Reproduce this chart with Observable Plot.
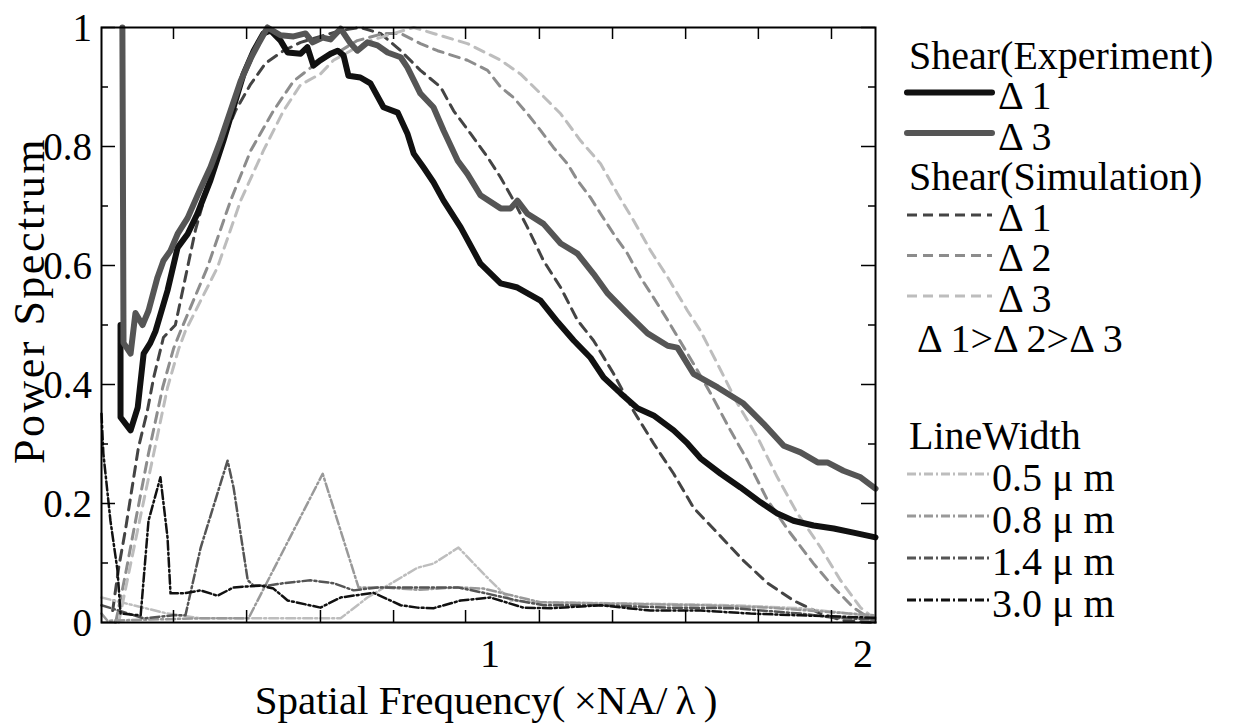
<!DOCTYPE html>
<html><head><meta charset="utf-8">
<script src="https://cdn.jsdelivr.net/npm/d3@7"></script>
<script src="https://cdn.jsdelivr.net/npm/@observablehq/plot@0.6"></script>
<style>
body{margin:0;background:#fff;}
#wrap{position:relative;width:1235px;height:728px;}
#wrap svg.leg{position:absolute;left:0;top:0;pointer-events:none;}
</style></head><body><div id="wrap"></div>
<script>
// ---- data (x: spatial frequency ×NA/λ, y: normalised power spectrum) ----
const expD1 = [[0.008,0.50],[0.008,0.345],[0.035,0.323],[0.054,0.361],[0.070,0.452],[0.088,0.47],[0.102,0.49],[0.134,0.558],[0.161,0.63],[0.188,0.653],[0.214,0.687],[0.249,0.743],[0.284,0.81],[0.311,0.866],[0.338,0.922],[0.365,0.961],[0.391,0.99],[0.410,0.995],[0.437,0.978],[0.456,0.958],[0.491,0.956],[0.509,0.967],[0.525,0.936],[0.544,0.945],[0.571,0.956],[0.590,0.961],[0.606,0.953],[0.619,0.919],[0.651,0.916],[0.678,0.906],[0.713,0.866],[0.751,0.857],[0.777,0.822],[0.794,0.788],[0.820,0.765],[0.847,0.74],[0.874,0.709],[0.920,0.664],[0.973,0.603],[1.027,0.57],[1.072,0.563],[1.134,0.541],[1.180,0.505],[1.223,0.474],[1.268,0.445],[1.303,0.412],[1.349,0.385],[1.394,0.36],[1.437,0.348],[1.491,0.323],[1.528,0.301],[1.563,0.276],[1.617,0.25],[1.670,0.227],[1.724,0.202],[1.769,0.183],[1.812,0.171],[1.866,0.163],[1.920,0.158],[1.973,0.151],[2.032,0.143]];
const expD3 = [[0.013,1.0],[0.016,0.47],[0.035,0.452],[0.048,0.52],[0.067,0.50],[0.083,0.524],[0.107,0.58],[0.123,0.608],[0.142,0.625],[0.161,0.653],[0.188,0.68],[0.223,0.73],[0.249,0.765],[0.276,0.81],[0.303,0.86],[0.330,0.91],[0.357,0.948],[0.378,0.973],[0.402,1.0],[0.437,0.987],[0.472,0.985],[0.504,0.99],[0.523,0.975],[0.550,0.983],[0.571,0.98],[0.598,0.998],[0.625,0.973],[0.643,0.961],[0.670,0.975],[0.697,0.97],[0.724,0.958],[0.759,0.95],[0.777,0.933],[0.812,0.889],[0.847,0.866],[0.874,0.827],[0.912,0.776],[0.938,0.754],[0.973,0.718],[1.027,0.696],[1.054,0.696],[1.072,0.709],[1.099,0.687],[1.142,0.67],[1.188,0.637],[1.233,0.62],[1.276,0.586],[1.314,0.553],[1.367,0.519],[1.421,0.486],[1.475,0.465],[1.501,0.462],[1.544,0.418],[1.609,0.395],[1.678,0.368],[1.732,0.334],[1.786,0.297],[1.831,0.286],[1.877,0.269],[1.903,0.269],[1.946,0.255],[1.992,0.244],[2.032,0.225]];
const simD1 = [[-0.013,0.02],[0.003,0.092],[0.021,0.155],[0.056,0.294],[0.080,0.356],[0.097,0.412],[0.123,0.479],[0.155,0.50],[0.182,0.58],[0.209,0.66],[0.236,0.72],[0.276,0.80],[0.316,0.86],[0.357,0.905],[0.397,0.94],[0.445,0.961],[0.491,0.975],[0.544,0.985],[0.598,0.995],[0.651,1.0],[0.705,0.99],[0.759,0.961],[0.812,0.928],[0.866,0.90],[0.901,0.86],[0.946,0.822],[0.992,0.782],[1.027,0.748],[1.062,0.709],[1.099,0.664],[1.142,0.608],[1.188,0.563],[1.233,0.508],[1.276,0.474],[1.330,0.418],[1.383,0.356],[1.437,0.301],[1.491,0.25],[1.544,0.193],[1.609,0.15],[1.678,0.104],[1.743,0.066],[1.812,0.037],[1.885,0.015],[1.946,0.003],[2.032,0.0]];
const simD2 = [[-0.005,0.0],[0.021,0.08],[0.048,0.17],[0.083,0.284],[0.121,0.395],[0.150,0.46],[0.169,0.49],[0.241,0.597],[0.303,0.709],[0.357,0.793],[0.418,0.86],[0.472,0.91],[0.544,0.945],[0.598,0.961],[0.643,0.978],[0.713,0.99],[0.759,0.99],[0.812,0.973],[0.858,0.961],[0.938,0.945],[0.992,0.928],[1.027,0.9],[1.062,0.882],[1.099,0.855],[1.134,0.827],[1.169,0.798],[1.206,0.771],[1.233,0.743],[1.268,0.714],[1.295,0.687],[1.330,0.653],[1.367,0.62],[1.402,0.58],[1.437,0.546],[1.475,0.508],[1.544,0.435],[1.590,0.385],[1.643,0.323],[1.689,0.272],[1.743,0.205],[1.804,0.15],[1.866,0.099],[1.920,0.059],[1.973,0.025],[2.032,0.0]];
const simD3 = [[0.003,0.0],[0.029,0.08],[0.062,0.18],[0.097,0.284],[0.134,0.395],[0.164,0.46],[0.182,0.49],[0.268,0.597],[0.330,0.709],[0.391,0.793],[0.445,0.86],[0.491,0.904],[0.544,0.922],[0.579,0.945],[0.625,0.961],[0.678,0.978],[0.740,0.99],[0.794,1.0],[0.847,0.99],[0.938,0.973],[1.027,0.945],[1.080,0.922],[1.134,0.889],[1.188,0.855],[1.241,0.81],[1.295,0.771],[1.340,0.721],[1.383,0.676],[1.429,0.625],[1.475,0.58],[1.528,0.524],[1.563,0.49],[1.617,0.424],[1.662,0.368],[1.716,0.311],[1.769,0.244],[1.823,0.183],[1.885,0.126],[1.938,0.071],[1.992,0.025],[2.032,0.005]];
const lw05 = [[-0.043,0.042],[0.134,0.015],[0.223,0.007],[0.598,0.007],[0.670,0.042],[0.804,0.092],[0.847,0.099],[0.914,0.126],[0.981,0.082],[1.054,0.037],[1.134,0.034],[1.383,0.032],[1.651,0.029],[1.831,0.024],[1.965,0.015],[2.032,0.008]];
const lw08 = [[-0.043,0.015],[-0.027,0.003],[0.088,0.005],[0.223,0.007],[0.351,0.007],[0.550,0.25],[0.646,0.059],[0.713,0.059],[0.804,0.055],[0.912,0.059],[0.981,0.057],[1.134,0.034],[1.295,0.032],[1.563,0.029],[1.743,0.025],[1.920,0.017],[2.032,0.012]];
const lw14 = [[-0.043,0.029],[0.070,0.007],[0.150,0.012],[0.182,0.012],[0.223,0.126],[0.295,0.272],[0.311,0.227],[0.349,0.071],[0.365,0.062],[0.402,0.062],[0.445,0.066],[0.517,0.071],[0.579,0.066],[0.633,0.054],[0.697,0.059],[0.804,0.059],[0.912,0.059],[0.981,0.05],[1.072,0.037],[1.142,0.029],[1.295,0.029],[1.475,0.025],[1.651,0.024],[1.831,0.015],[1.920,0.008],[2.032,0.005]];
const lw30 = [[-0.043,0.351],[-0.038,0.284],[-0.019,0.171],[0.0,0.087],[0.008,0.015],[0.062,0.012],[0.083,0.171],[0.115,0.244],[0.134,0.143],[0.142,0.049],[0.177,0.049],[0.223,0.054],[0.268,0.045],[0.311,0.059],[0.383,0.062],[0.418,0.057],[0.456,0.037],[0.544,0.025],[0.598,0.042],[0.686,0.05],[0.759,0.029],[0.804,0.025],[0.847,0.024],[0.920,0.037],[1.000,0.042],[1.088,0.025],[1.161,0.024],[1.295,0.029],[1.429,0.02],[1.563,0.02],[1.697,0.015],[1.831,0.012],[2.032,0.008]];

const xDomain = [-0.043, 2.032];
const xTickLabels = [1, 2];
const xMinorTicks = [0.150, 0.346, 0.544, 0.740, 0.933, 1.131, 1.327, 1.523, 1.718, 1.914];
const yTickLabels = [0, 0.2, 0.4, 0.6, 0.8, 1];
const yMinorTicks = [0.1, 0.3, 0.5, 0.7, 0.9];
const xTitle = "Spatial Frequency(\u2009\u00d7NA/\u2009\u03bb\u2009)";
const yTitle = "Power Spectrum";

const legendHeaders = ["Shear(Experiment)", "Shear(Simulation)", "LineWidth"];
const expLabels = ["\u0394 1", "\u0394 3"];
const simLabels = ["\u0394 1", "\u0394 2", "\u0394 3"];
const orderNote = "\u0394 1>\u0394 2>\u0394 3";
const widthLabels = ["0.5 \u03bc m", "0.8 \u03bc m", "1.4 \u03bc m", "3.0 \u03bc m"];

// ---- styles ----
const FONT = "Liberation Serif";
const expStyles = [{stroke:"#111"}, {stroke:"#555"}];
const simStyles = [{stroke:"#444"}, {stroke:"#8c8c8c"}, {stroke:"#bdbdbd"}];
const lwStyles = [{stroke:"#bdbdbd"}, {stroke:"#999"}, {stroke:"#555"}, {stroke:"#111"}];
const SIMDASH = "10,7";
const LWDASH = "9,3,2,3";

const W = 1235, H = 728, ML = 101, MR = 360, MT = 27, MB = 106;
const fw = W - ML - MR, fh = H - MT - MB;

const px = d => d[0], py = d => d[1];
const simSeries = [simD1, simD2, simD3];
const lwSeries = [lw05, lw08, lw14, lw30];

const marks = [];
simSeries.forEach((s, i) => marks.push(Plot.line(s, {x: px, y: py, stroke: simStyles[i].stroke, strokeWidth: 3, strokeDasharray: SIMDASH})));
lwSeries.forEach((s, i) => marks.push(Plot.line(s, {x: px, y: py, stroke: lwStyles[i].stroke, strokeWidth: 2.5, strokeDasharray: LWDASH})));
marks.push(Plot.line(expD1, {x: px, y: py, stroke: expStyles[0].stroke, strokeWidth: 6, strokeLinejoin: "round", strokeLinecap: "round"}));
marks.push(Plot.line(expD3, {x: px, y: py, stroke: expStyles[1].stroke, strokeWidth: 6, strokeLinejoin: "round", strokeLinecap: "round"}));

// inward ticks
marks.push(Plot.tickY(yTickLabels, {y: d => d, insetRight: fw - 14, stroke: "#000", strokeWidth: 1.5}));
marks.push(Plot.tickY(yMinorTicks, {y: d => d, insetRight: fw - 7, stroke: "#000", strokeWidth: 1.5}));
marks.push(Plot.tickY(yTickLabels, {y: d => d, insetLeft: fw - 14, stroke: "#000", strokeWidth: 1.5}));
marks.push(Plot.tickY(yMinorTicks, {y: d => d, insetLeft: fw - 7, stroke: "#000", strokeWidth: 1.5}));
marks.push(Plot.tickX(xMinorTicks, {x: d => d, insetTop: fh - 12, stroke: "#000", strokeWidth: 1.5}));
marks.push(Plot.tickX(xMinorTicks, {x: d => d, insetBottom: fh - 12, stroke: "#000", strokeWidth: 1.5}));
marks.push(Plot.frame({stroke: "#000", strokeWidth: 2}));

const chart = Plot.plot({
  width: W, height: H,
  marginLeft: ML, marginRight: MR, marginTop: MT, marginBottom: MB,
  x: {domain: xDomain, axis: null},
  y: {domain: [0, 1], axis: null},
  style: {background: "#fff", color: "#000"},
  marks
});
const wrap = document.getElementById("wrap");
wrap.appendChild(chart);
const xs = chart.scale("x"), ys = chart.scale("y");

// ---- text layer (tick labels and titles placed with Plot's own scales) ----
const svg = d3.select(wrap).append("svg").attr("class", "leg").attr("width", W).attr("height", H);
function text(x, y, s, fs, anchor) {
  return svg.append("text").attr("x", x).attr("y", y).attr("dominant-baseline", "central")
    .attr("text-anchor", anchor || "start")
    .attr("font-family", FONT).attr("font-size", fs).attr("fill", "#000").text(s);
}
yTickLabels.forEach(v => text(ML - 9, ys.apply(v), String(v), 39, "end"));
xTickLabels.forEach(v => text(xs.apply(v), H - MB + 31, String(v), 40, "middle"));
text((ML + W - MR) / 2 - 2, H - 28, xTitle, 41, "middle");
svg.append("text").attr("transform", `translate(29,${(MT + H - MB) / 2 - 24}) rotate(-90)`)
  .attr("dominant-baseline", "central").attr("text-anchor", "middle").attr("letter-spacing", 2.5)
  .attr("font-family", FONT).attr("font-size", 44).attr("fill", "#000").text(yTitle);

// ---- legend ----
const LX0 = 907, LX1 = 992, TX = 998, HX = 909, FS = 40;
function swatch(y, st, dash, w) {
  const l = svg.append("line").attr("x1", LX0).attr("x2", LX1).attr("y1", y).attr("y2", y)
    .attr("stroke", st).attr("stroke-width", w);
  if (dash) l.attr("stroke-dasharray", dash); else l.attr("stroke-linecap", "round");
}
const step = 40.5, y0 = 55;
text(HX, y0, legendHeaders[0], FS);
expLabels.forEach((s, i) => { const y = y0 + step * (1 + i); swatch(y - 3, expStyles[i].stroke, null, 6); text(TX, y, s, FS); });
text(HX, y0 + step * 3, legendHeaders[1], FS);
simLabels.forEach((s, i) => { const y = y0 + step * (4 + i); swatch(y - 2, simStyles[i].stroke, "10,6", 3); text(TX, y, s, FS); });
text(917, y0 + step * 7, orderNote, FS);
const y2 = 435, step2 = 42;
text(HX, y2, legendHeaders[2], FS);
widthLabels.forEach((s, i) => { const y = y2 + step2 * (1 + i); swatch(y - 3, lwStyles[i].stroke, LWDASH, 3); text(LX1, y, s, FS); });
</script></body></html>
